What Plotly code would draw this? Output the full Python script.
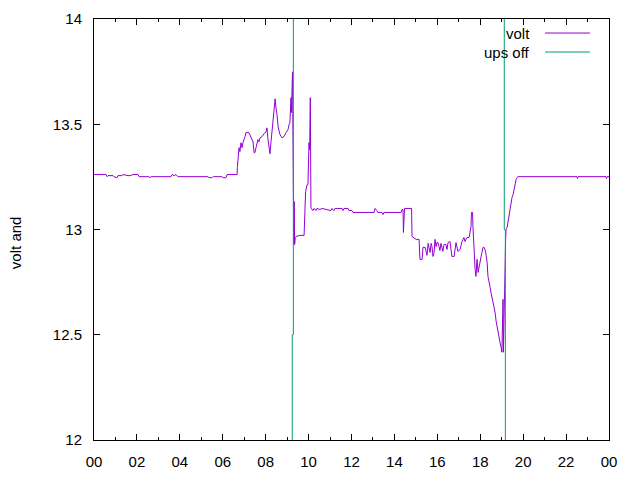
import plotly.graph_objects as go

# battery voltage over one day (hours since midnight, volts)
volt_t = [
    0.00, 0.56, 0.61, 0.65, 0.89, 0.93, 1.07, 1.12, 1.30, 1.35, 1.58, 1.68, 1.82, 2.05,
    2.10, 2.56, 2.61, 2.66, 3.59, 3.64, 3.73, 3.82, 3.91, 5.31, 5.36, 5.50, 5.55, 5.97,
    6.01, 6.15, 6.20, 6.66,
    6.67, 6.68, 6.71, 6.76, 6.80, 6.85, 6.90, 6.94, 7.04, 7.08, 7.22, 7.27, 7.32, 7.41,
    7.46, 7.50, 7.55, 7.64, 7.69, 7.74, 7.83, 7.92, 8.02, 8.06, 8.11, 8.20, 8.25, 8.34,
    8.39, 8.44, 8.48, 8.53, 8.58, 8.67, 8.76, 8.85, 8.95, 9.04, 9.09, 9.13, 9.18, 9.20,
    9.25, 9.27, 9.31, 9.33, 9.35, 9.38, 9.42, 9.60, 9.79, 9.82, 9.86, 9.93, 9.97, 10.02,
    10.05, 10.08, 10.11,
    10.21, 10.25, 10.35, 10.39, 10.53, 10.63, 11.04, 11.09, 11.18, 11.23, 11.56, 11.60,
    11.65, 11.84, 11.88, 12.02, 12.07, 13.05, 13.09, 13.14, 13.19, 13.23, 13.42, 13.47,
    13.51, 14.31, 14.35, 14.40, 14.42, 14.47, 14.80, 14.82, 14.91, 15.01, 15.15, 15.19,
    15.29, 15.33, 15.43, 15.47, 15.52, 15.57, 15.61, 15.66, 15.71, 15.75, 15.80, 15.85,
    15.89, 15.94, 15.98, 16.03, 16.08, 16.12, 16.17, 16.22, 16.26, 16.31, 16.40, 16.45,
    16.50, 16.59, 16.68, 16.78, 16.82, 16.87, 16.96, 17.06, 17.15, 17.24, 17.29, 17.38,
    17.48, 17.57, 17.59, 17.64, 17.66, 17.71, 17.76, 17.80, 17.85, 17.90, 17.94, 17.99,
    18.04, 18.08, 18.13, 18.18, 18.22, 18.27, 18.32, 18.36, 18.41, 18.46, 18.50, 18.55,
    18.59, 18.64, 18.69, 18.74, 18.78, 18.83, 18.87, 18.92, 18.97, 19.01, 19.06, 19.08,
    19.18, 19.20, 19.25, 19.29, 19.34, 19.39, 19.43, 19.48, 19.53, 19.57, 19.62, 19.67,
    19.71, 19.76, 22.51, 22.53, 22.56, 23.86, 23.88, 23.91, 24.00,
]
volt_v = [
    13.261, 13.261, 13.251, 13.256, 13.256, 13.251, 13.246, 13.256, 13.256, 13.261, 13.256,
    13.256, 13.261, 13.261, 13.251, 13.251, 13.246, 13.251, 13.251, 13.261, 13.256, 13.261,
    13.251, 13.251, 13.246, 13.246, 13.251, 13.251, 13.246, 13.246, 13.261, 13.261,
    13.261, 13.294, 13.346, 13.389, 13.370, 13.412, 13.389, 13.412, 13.441, 13.460, 13.460,
    13.450, 13.436, 13.417, 13.365, 13.365, 13.389, 13.427, 13.417, 13.436, 13.441, 13.455,
    13.464, 13.483, 13.427, 13.360, 13.417, 13.512, 13.602, 13.621, 13.578, 13.545, 13.488,
    13.450, 13.436, 13.441, 13.460, 13.474, 13.498, 13.507, 13.626, 13.555, 13.749, 13.507,
    12.929, 13.133, 12.929, 12.962, 12.967, 12.972, 12.972, 13.109, 13.180, 13.213, 13.213,
    13.412, 13.379, 13.626, 13.100,
    13.090, 13.100, 13.090, 13.100, 13.095, 13.100, 13.090, 13.100, 13.090, 13.100, 13.100,
    13.090, 13.100, 13.100, 13.090, 13.090, 13.081, 13.081, 13.100, 13.095, 13.090, 13.081,
    13.081, 13.071, 13.081, 13.081, 13.095, 13.095, 12.986, 13.100, 13.100, 12.967, 12.962,
    12.953, 12.953, 12.858, 12.858, 12.915, 12.915, 12.896, 12.877, 12.934, 12.905, 12.891,
    12.934, 12.919, 12.872, 12.891, 12.953, 12.919, 12.938, 12.938, 12.919, 12.900, 12.934,
    12.905, 12.896, 12.929, 12.929, 12.905, 12.938, 12.943, 12.872, 12.872, 12.915, 12.938,
    12.896, 12.905, 12.943, 12.962, 12.943, 12.962, 12.962, 13.014, 13.081, 13.081, 13.014,
    12.896, 12.810, 12.777, 12.858, 12.796, 12.825, 12.848, 12.872, 12.891, 12.915, 12.915,
    12.905, 12.882, 12.844, 12.777, 12.739, 12.725, 12.701, 12.678, 12.659, 12.635, 12.607,
    12.564, 12.540, 12.512, 12.479, 12.464, 12.441, 12.417, 12.668, 12.417, 12.943, 13.000,
    13.009, 13.033, 13.071, 13.104, 13.133, 13.152, 13.166, 13.190, 13.213, 13.237, 13.246,
    13.251, 13.251, 13.242, 13.251, 13.251, 13.242, 13.251, 13.251,
]

# ups off indicator (off-scale except at the switch moments)
ups_t = [0, 9.24, 9.24, 9.29, 9.29, 19.12, 19.12, 19.17, 19.17, 24]
ups_v = [11, 11, 12.5, 12.5, 15, 15, 13.0, 13.0, 11, 11]

x_ticks = list(range(0, 25, 2))
x_labels = ["%02d" % (h % 24) for h in x_ticks]
y_ticks = [12, 12.5, 13, 13.5, 14]
y_labels = ["12", "12.5", "13", "13.5", "14"]

PURPLE = "#9400d3"
GREEN = "#009e73"
FONT = dict(family="Liberation Sans, Arial, sans-serif", size=15, color="black")

fig = go.Figure()
fig.add_trace(go.Scatter(x=volt_t, y=volt_v, mode="lines", name="volt",
                         line=dict(color=PURPLE, width=1), showlegend=False))
fig.add_trace(go.Scatter(x=ups_t, y=ups_v, mode="lines", name="ups off",
                         line=dict(color=GREEN, width=1), showlegend=False))

axis_common = dict(
    showline=True, linecolor="black", linewidth=1, mirror="allticks",
    ticks="inside", ticklen=6, tickcolor="black", tickwidth=1,
    showgrid=False, zeroline=False, tickfont=FONT, ticklabelstandoff=8,
    automargin=False,
)
fig.update_xaxes(range=[0, 24], tickvals=x_ticks, ticktext=x_labels,
                 minor=dict(ticks="inside", ticklen=3, tick0=0, dtick=1,
                            tickcolor="black", showgrid=False),
                 **axis_common)
fig.update_yaxes(range=[12, 14], tickvals=y_ticks, ticktext=y_labels, **axis_common)

# gnuplot-style key: text right-aligned, sample line to its right
key = [("volt", PURPLE, 0.9667), ("ups off", GREEN, 0.9216)]
for label, color, ky in key:
    fig.add_annotation(xref="paper", yref="paper", x=0.8505, y=ky, text=label,
                       showarrow=False, xanchor="right", yanchor="middle", font=FONT)
    fig.add_shape(type="line", xref="paper", yref="paper", x0=0.8757, x1=0.9631,
                  y0=ky, y1=ky, line=dict(color=color, width=1))

fig.add_annotation(xref="paper", yref="paper", x=-0.1534, y=0.47, text="volt and",
                   textangle=-90, showarrow=False, xanchor="center", yanchor="middle",
                   font=FONT)

fig.update_layout(
    width=640, height=480, autosize=False,
    margin=dict(l=94, r=31, t=19, b=40),
    paper_bgcolor="white", plot_bgcolor="white",
    font=FONT,
)

fig.write_html("out.html", config={"displayModeBar": False},
               post_script="document.body.style.margin='0';")
